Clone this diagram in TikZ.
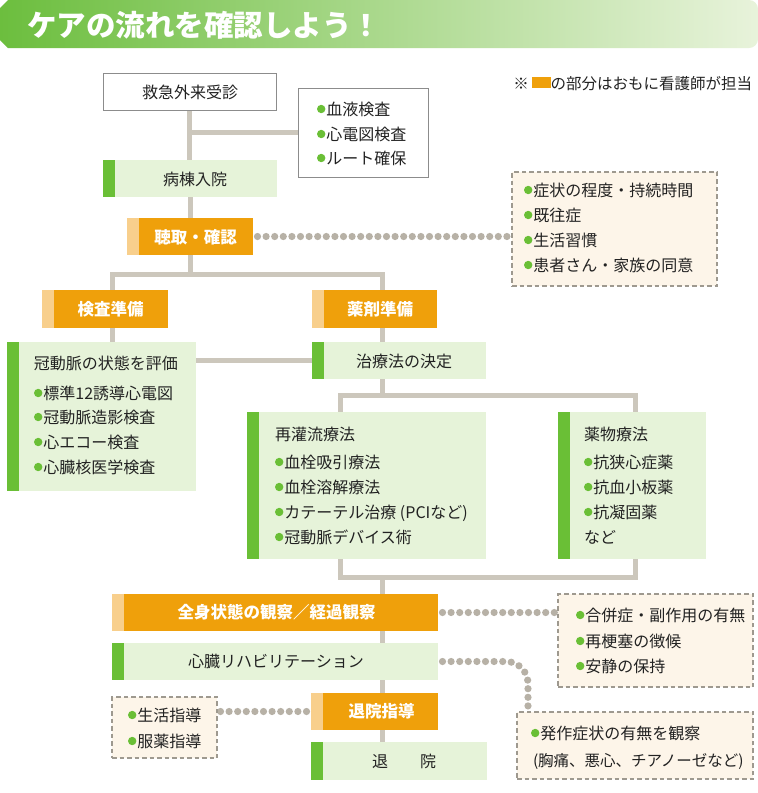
\documentclass[tikz,border=0pt]{standalone}
\usepackage{fontspec}
\setmainfont{Noto Sans CJK JP}
\usetikzlibrary{calc,backgrounds}
\definecolor{connc}{HTML}{CCC7BC}
\definecolor{dotc}{HTML}{B7B1A6}
\definecolor{dashc}{HTML}{9E998F}
\definecolor{cream}{HTML}{FDF5E9}
\definecolor{lgreen}{HTML}{E6F3D9}
\definecolor{bgreen}{HTML}{6ABF36}
\definecolor{orng}{HTML}{EFA00B}
\definecolor{lorng}{HTML}{F8CF8C}
\definecolor{wborder}{HTML}{8C8C8C}
\definecolor{txtc}{HTML}{222222}
\definecolor{bannA}{HTML}{6CBE3E}
\definecolor{bannB}{HTML}{E8F3DB}
\newcommand\gb{\tikz[baseline=-6.1pt]\fill[bgreen] (0,0) circle (4.2pt);\hspace{1pt}}
\begin{document}
\begin{tikzpicture}[x=1pt,y=-1pt,
  box/.style={anchor=north west, inner sep=0pt, outer sep=0pt, rectangle},
  wbox/.style={box, draw=wborder, line width=1pt, fill=white},
  gbox/.style={box, fill=lgreen, path picture={\fill[bgreen] (path picture bounding box.north west) rectangle ([xshift=12pt]path picture bounding box.south west);}},
  obox/.style={box, fill=orng, path picture={\fill[lorng] (path picture bounding box.north west) rectangle ([xshift=12pt]path picture bounding box.south west);}},
  dbox/.style={box, draw=dashc, line width=1.3pt, dash pattern=on 4.5pt off 3pt, fill=cream},
  conn/.style={draw=connc, line width=5pt},
  dotl/.style={draw=dotc, line width=7.2pt, line cap=round, dash pattern=on 0pt off 8.6pt},
  tx/.style={inner sep=0pt, outer sep=0pt, text=txtc, font=\fontsize{16}{16}\selectfont, text height=12.9pt, text depth=0.7pt},
  tl/.style={tx, anchor=west},
  tb/.style={inner sep=0pt, outer sep=0pt, text=white, font=\fontsize{16.5}{16.5}\selectfont\bfseries, text height=13.3pt, text depth=0.7pt},
]
\useasboundingbox (0,0) rectangle (758,793);

% banner
\shade[left color=bannA, right color=bannB] (0,8) -- (8,0) -- (749,0) to[out=0,in=90] (758,9) -- (758,39) to[out=-90,in=0] (749,48) -- (8,48) -- (0,40) -- cycle;
\node[anchor=west, inner sep=0pt, text=white, font=\fontsize{29.5}{29.5}\selectfont\bfseries, text height=23pt, text depth=0.8pt] (title) at (27,25) {ケアの流れを確認しよう！};

% note
\node[tx, anchor=east, font=\fontsize{15.5}{15.5}\selectfont] (note) at (752,83) {※\,\textcolor{orng}{\rule[1.5pt]{19pt}{11pt}}の部分はおもに看護師が担当};

% boxes
\node[wbox, minimum width=173pt, minimum height=37pt] (er) at (103,73) {};
\node[wbox, minimum width=130pt, minimum height=89pt] (bk) at (298,88) {};
\node[gbox, minimum width=174pt, minimum height=37pt] (bt) at (103,160) {};
\node[obox, minimum width=126pt, minimum height=37pt] (ch) at (127,218) {};
\node[dbox, minimum width=205pt, minimum height=114pt] (db1) at (512,172) {};
\node[obox, minimum width=126pt, minimum height=38pt] (kj) at (42,290) {};
\node[obox, minimum width=125pt, minimum height=38pt] (yj) at (312,290) {};
\node[gbox, minimum width=189pt, minimum height=149pt] (kd) at (7,342) {};
\node[gbox, minimum width=174pt, minimum height=37pt] (tr) at (312,342) {};
\node[gbox, minimum width=239pt, minimum height=147pt] (rf) at (247,412) {};
\node[gbox, minimum width=148pt, minimum height=147pt] (yb) at (558,412) {};
\node[obox, minimum width=326pt, minimum height=37pt] (zs) at (112,594) {};
\node[dbox, minimum width=195pt, minimum height=93pt] (db2) at (558,594) {};
\node[gbox, minimum width=326pt, minimum height=37pt] (sr) at (112,643) {};
\node[obox, minimum width=127pt, minimum height=37pt] (tk) at (311,693) {};
\node[dbox, minimum width=105pt, minimum height=61pt] (db4) at (112,697) {};
\node[gbox, minimum width=176pt, minimum height=38pt] (ti) at (311,742) {};
\node[dbox, minimum width=236pt, minimum height=67pt] (db3) at (517,712) {};

% junctions
\coordinate (j1) at (190,274);
\coordinate (jk) at (112,274);
\coordinate (jy) at (382,274);
\coordinate (j2) at (382,395);
\coordinate (j3) at (382,577);
\coordinate (jr) at (340,0);
\coordinate (jb) at (635,0);

\begin{pgfonlayer}{background}
\fill[white] (0,0) rectangle (758,793);
\draw[conn] (er.south) -- (er.south |- bt.north);
\draw[conn] (bk.west) -- (bk.west -| er.south);
\draw[conn] (bt.south) -- (bt.south |- ch.north);
\draw[conn] (ch.south) -- (ch.south |- j1);
\draw[conn] (jk |- kj.north) -- (jk) -- (jy) -- (jy |- yj.north);
\draw[conn] (jk |- kj.south) -- (jk |- kd.north);
\draw[conn] (jy |- yj.south) -- (jy |- tr.north);
\draw[conn] (tr.west) -- (tr.west -| kd.east);
\draw[conn] (j2 |- tr.south) -- (j2);
\draw[conn] (jr |- rf.north) |- (j2) -| (jb |- yb.north);
\draw[conn] (jr |- rf.south) |- (j3) -| (jb |- yb.south);
\draw[conn] (j3) -- (j3 |- zs.north);
\draw[conn] (j3 |- zs.south) -- (j3 |- sr.north);
\draw[conn] (j3 |- sr.south) -- (j3 |- tk.north);
\draw[conn] (j3 |- tk.south) -- (j3 |- ti.north);
\draw[dotl, shorten <=4.5pt] (ch.east) -- (ch.east -| db1.west);
\draw[dotl, shorten <=4.5pt] (zs.east) -- (zs.east -| db2.west);
\draw[dotl, shorten <=4.5pt, rounded corners=22pt] (sr.east) -| ($(db3.north west)+(11,0)$);
\draw[dotl, shorten <=4.5pt] (tk.west) -- (tk.west -| db4.east);
\end{pgfonlayer}

% texts
\node[tx] (ter) at (190,92) {救急外来受診};
\node[tl] (tbk1) at (317,109) {\gb{}血液検査};
\node[tl] (tbk2) at (317,134) {\gb{}心電図検査};
\node[tl] (tbk3) at (317,158) {\gb{}ルート確保};
\node[tx] (tbt) at (195,179) {病棟入院};
\node[tb] (tch) at (195.5,237) {聴取・確認};
\node[tl] (td11) at (524,190) {\gb{}症状の程度・持続時間};
\node[tl] (td12) at (524,215) {\gb{}既往症};
\node[tl] (td13) at (524,240) {\gb{}生活習慣};
\node[tl] (td14) at (524,265) {\gb{}患者さん・家族の同意};
\node[tb] (tkj) at (110.5,309) {検査準備};
\node[tb] (tyj) at (380,309) {薬剤準備};
\node[tl] (tkd0) at (34,363) {冠動脈の状態を評価};
\node[tl] (tkd1) at (34,393) {\gb{}標準12誘導心電図};
\node[tl] (tkd2) at (34,417) {\gb{}冠動脈造影検査};
\node[tl] (tkd3) at (34,442) {\gb{}心エコー検査};
\node[tl] (tkd4) at (34,467) {\gb{}心臓核医学検査};
\node[tx] (ttr) at (404,361) {治療法の決定};
\node[tl] (trf0) at (275,434) {再灌流療法};
\node[tl] (trf1) at (275,462) {\gb{}血栓吸引療法};
\node[tl] (trf2) at (275,487) {\gb{}血栓溶解療法};
\node[tl] (trf3) at (275,512) {\gb{}カテーテル治療 (PCIなど)};
\node[tl] (trf4) at (275,537) {\gb{}冠動脈デバイス術};
\node[tl] (tyb0) at (584,434) {薬物療法};
\node[tl] (tyb1) at (584,462) {\gb{}抗狭心症薬};
\node[tl] (tyb2) at (584,487) {\gb{}抗血小板薬};
\node[tl] (tyb3) at (584,512) {\gb{}抗凝固薬};
\node[tl] (tyb4) at (584,537) {など};
\node[tb] (tzs) at (276.5,612.5) {全身状態の観察／経過観察};
\node[tl] (td21) at (576,615) {\gb{}合併症・副作用の有無};
\node[tl] (td22) at (576,641) {\gb{}再梗塞の徴候};
\node[tl] (td23) at (576,666) {\gb{}安静の保持};
\node[tx] (tsr) at (276,661.5) {心臓リハビリテーション};
\node[tb] (ttk) at (381.5,711.5) {退院指導};
\node[tl] (td41) at (128,715) {\gb{}生活指導};
\node[tl] (td42) at (128,741) {\gb{}服薬指導};
\node[tx] (tti) at (404,761) {退　　院};
\node[tl] (td31) at (531,733) {\gb{}発作症状の有無を観察};
\node[tl, font=\fontsize{15.5}{15.5}\selectfont] (td32) at (533,760) {(胸痛、悪心、チアノーゼなど)};
\end{tikzpicture}
\end{document}
